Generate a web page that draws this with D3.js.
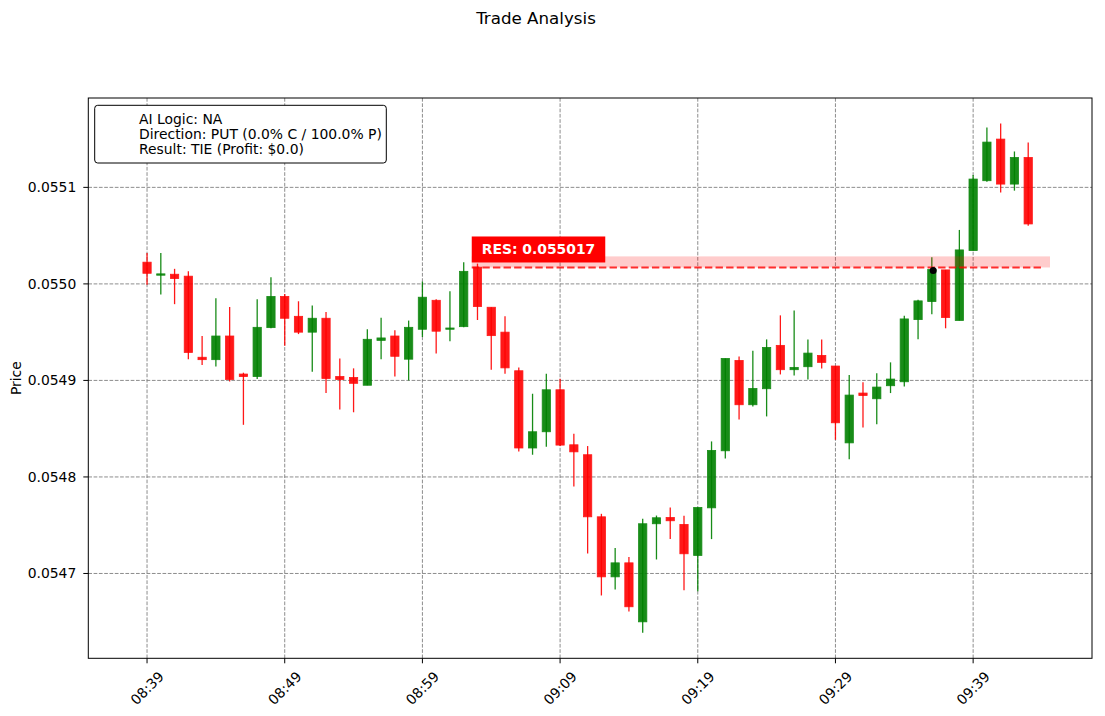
<!DOCTYPE html>
<html><head><meta charset="utf-8">
<script src="https://cdn.jsdelivr.net/npm/d3@7"></script>
<style>body{margin:0;background:#fff;} svg{display:block;font-family:"DejaVu Sans",sans-serif;}</style>
</head><body>
<svg id="chart" width="1105" height="716"></svg>
<script>
const times = ["08:39","08:40","08:41","08:42","08:43","08:44","08:45","08:46","08:47","08:48",
"08:49","08:50","08:51","08:52","08:53","08:54","08:55","08:56","08:57","08:58",
"08:59","09:00","09:01","09:02","09:03","09:04","09:05","09:06","09:07","09:08",
"09:09","09:10","09:11","09:12","09:13","09:14","09:15","09:16","09:17","09:18",
"09:19","09:20","09:21","09:22","09:23","09:24","09:25","09:26","09:27","09:28",
"09:29","09:30","09:31","09:32","09:33","09:34","09:35","09:36","09:37","09:38",
"09:39","09:40","09:41","09:42","09:43"];
const opens = [0.0550225,0.0550090,0.0550100,0.0550080,0.0549240,0.0549215,0.0549460,0.0549066,0.0549040,0.0549547,
0.0549870,0.0549664,0.0549500,0.0549644,0.0549040,0.0549030,0.0548950,0.0549415,0.0549460,0.0549220,
0.0549530,0.0549830,0.0549530,0.0549557,0.0550173,0.0549758,0.0549500,0.0549100,0.0548300,0.0548468,
0.0548903,0.0548333,0.0548230,0.0547587,0.0546965,0.0547110,0.0546499,0.0547515,0.0547580,0.0547508,
0.0547187,0.0547680,0.0548271,0.0549207,0.0548748,0.0548914,0.0549363,0.0549111,0.0549142,0.0549259,
0.0549149,0.0548353,0.0548869,0.0548810,0.0548945,0.0548986,0.0549630,0.0549817,0.0550145,0.0549621,
0.0550345,0.0551069,0.0551500,0.0551034,0.0551310];
const highs = [0.0550320,0.0550320,0.0550156,0.0550130,0.0549460,0.0549850,0.0549760,0.0549080,0.0549840,0.0550070,
0.0549896,0.0549820,0.0549775,0.0549710,0.0549228,0.0549125,0.0549530,0.0549650,0.0549520,0.0549620,
0.0550024,0.0549840,0.0549924,0.0550225,0.0550210,0.0549758,0.0549664,0.0549135,0.0548862,0.0549069,
0.0549017,0.0548447,0.0548320,0.0547618,0.0547263,0.0547170,0.0547566,0.0547600,0.0547684,0.0547598,
0.0547684,0.0548368,0.0549228,0.0549249,0.0549307,0.0549425,0.0549674,0.0549725,0.0549425,0.0549425,
0.0549149,0.0549055,0.0548980,0.0549073,0.0549187,0.0549671,0.0549837,0.0550277,0.0550145,0.0550559,
0.0551128,0.0551621,0.0551662,0.0551372,0.0551466];
const lows = [0.0549990,0.0549890,0.0549790,0.0549220,0.0549160,0.0549145,0.0548990,0.0548540,0.0549014,0.0549540,
0.0549360,0.0549480,0.0549090,0.0548870,0.0548700,0.0548670,0.0548950,0.0549220,0.0549040,0.0549000,
0.0549450,0.0549280,0.0549405,0.0549550,0.0549626,0.0549110,0.0549070,0.0548264,0.0548230,0.0548313,
0.0548320,0.0547900,0.0547207,0.0546772,0.0546834,0.0546606,0.0546385,0.0547145,0.0547356,0.0546827,
0.0546817,0.0547356,0.0548192,0.0548596,0.0548730,0.0548627,0.0549062,0.0549052,0.0549010,0.0549124,
0.0548385,0.0548183,0.0548512,0.0548547,0.0548869,0.0548938,0.0549426,0.0549685,0.0549540,0.0549621,
0.0550345,0.0551059,0.0550948,0.0550966,0.0550603];
const closes = [0.0550110,0.0550104,0.0550055,0.0549290,0.0549215,0.0549460,0.0549010,0.0549040,0.0549550,0.0549870,
0.0549644,0.0549500,0.0549644,0.0549020,0.0549010,0.0548970,0.0549426,0.0549440,0.0549250,0.0549550,
0.0549862,0.0549510,0.0549543,0.0550130,0.0549765,0.0549464,0.0549130,0.0548300,0.0548468,0.0548903,
0.0548330,0.0548260,0.0547587,0.0546965,0.0547110,0.0546655,0.0547515,0.0547577,0.0547546,0.0547204,
0.0547684,0.0548275,0.0549228,0.0548748,0.0548917,0.0549342,0.0549111,0.0549135,0.0549283,0.0549187,
0.0548561,0.0548848,0.0548844,0.0548931,0.0549014,0.0549637,0.0549824,0.0550149,0.0549651,0.0550352,
0.0551086,0.0551469,0.0551034,0.0551310,0.0550621];
const yTicks = [0.0547,0.0548,0.0549,0.0550,0.0551];
const xTickLabels = ["08:39","08:49","08:59","09:09","09:19","09:29","09:39"];
const legendLines = ["AI Logic: NA","Direction: PUT (0.0% C / 100.0% P)","Result: TIE (Profit: $0.0)"];
const titleText = "Trade Analysis";
const yLabel = "Price";
const resLevel = 0.055017;
const resLabel = "RES: 0.055017";
const resStart = "09:02:35", resEnd = "09:43:58", bandEnd = "09:44:35";
const bandTop = 0.0550285;
const entryTime = "09:36:06", entryPrice = 0.055014;
const xDomainStr = ["08:34:44","09:47:38"];

const p1 = d3.timeParse("%H:%M"), p2 = d3.timeParse("%H:%M:%S");
const parse = s => s.length > 5 ? p2(s) : p1(s);

const svg = d3.select("#chart");
const L = 88.3, R = 1092, T = 98, B = 658.3;

const candles = times.map((t,i)=>({t:parse(t),o:opens[i],h:highs[i],l:lows[i],c:closes[i]}));
const x = d3.scaleTime().domain(xDomainStr.map(parse)).range([L,R]);
const lo = d3.min(lows), hi = d3.max(highs), pad = (hi-lo)*0.05;
const y = d3.scaleLinear().domain([lo-pad, hi+pad]).range([B,T]);

// title
svg.append("text").attr("x",536).attr("y",24).attr("text-anchor","middle")
  .attr("font-size","16.7px").attr("fill","#000").text(titleText);

// grid
const g = svg.append("g");
g.selectAll(".hg").data(yTicks).enter().append("line")
  .attr("x1",L).attr("x2",R).attr("y1",d=>y(d)).attr("y2",d=>y(d))
  .attr("stroke","#808080").attr("stroke-width",0.9).attr("stroke-dasharray","3.7,1.6");
g.selectAll(".vg").data(xTickLabels).enter().append("line")
  .attr("y1",T).attr("y2",B).attr("x1",d=>x(parse(d))).attr("x2",d=>x(parse(d)))
  .attr("stroke","#808080").attr("stroke-width",0.9).attr("stroke-dasharray","3.7,1.6");

// candles
const minute = 60000;
const cw = x(new Date(parse("08:39").getTime()+0.6*minute)) - x(parse("08:39"));
const cg = svg.append("g");
candles.forEach(d=>{
  const col = d.c >= d.o ? "green" : "red";
  const cx = x(d.t);
  cg.append("line").attr("x1",cx).attr("x2",cx).attr("y1",y(d.h)).attr("y2",y(d.l))
    .attr("stroke",col).attr("stroke-width",1.3).attr("opacity",0.9);
  const top = y(Math.max(d.o,d.c)), bot = y(Math.min(d.o,d.c));
  cg.append("rect").attr("x",cx-cw/2).attr("width",cw).attr("y",top).attr("height",Math.max(bot-top,0.8))
    .attr("fill",col).attr("stroke",col).attr("stroke-width",0.8).attr("opacity",0.9);
});

// resistance band + line
svg.append("rect").attr("x",x(parse(resStart))).attr("width",x(parse(bandEnd))-x(parse(resStart)))
  .attr("y",y(bandTop)).attr("height",y(resLevel)-y(bandTop)).attr("fill","red").attr("opacity",0.2);
svg.append("line").attr("x1",x(parse(resStart))).attr("x2",x(parse(resEnd)))
  .attr("y1",y(resLevel)).attr("y2",y(resLevel)).attr("stroke","red").attr("stroke-width",2)
  .attr("stroke-dasharray","7.4,3.2").attr("opacity",0.8);

// label
const lx = x(parse(resStart)), lyBottom = y(resLevel)-5;
const lt = svg.append("text").attr("x",lx+10).attr("y",lyBottom-8).attr("font-size","13.9px")
  .attr("font-weight","bold").attr("fill","white").text(resLabel);
const tl = lt.node().getComputedTextLength();
svg.insert("rect","text:last-of-type").attr("x",lx).attr("y",lyBottom-26).attr("width",tl+20).attr("height",26).attr("fill","red");
lt.raise();

// entry marker
svg.append("circle").attr("cx",x(parse(entryTime))).attr("cy",y(entryPrice)).attr("r",3.5).attr("fill","black");

// frame
svg.append("rect").attr("x",L).attr("y",T).attr("width",R-L).attr("height",B-T)
  .attr("fill","none").attr("stroke","black").attr("stroke-width",1);

// y axis ticks
yTicks.forEach(v=>{
  svg.append("line").attr("x1",L-5).attr("x2",L).attr("y1",y(v)).attr("y2",y(v)).attr("stroke","black");
  svg.append("text").attr("x",L-12).attr("y",y(v)).attr("dy","0.36em").attr("text-anchor","end")
    .attr("font-size","13.9px").text(d3.format(".4f")(v));
});
// x axis ticks
xTickLabels.forEach(s=>{
  const xx = x(parse(s));
  svg.append("line").attr("x1",xx).attr("x2",xx).attr("y1",B).attr("y2",B+5).attr("stroke","black");
  svg.append("text").attr("transform",`translate(${xx},688) rotate(-45)`).attr("dy","0.36em")
    .attr("text-anchor","middle").attr("font-size","13.9px").text(s);
});
// y label
svg.append("text").attr("transform",`translate(21,${(T+B)/2}) rotate(-90)`).attr("text-anchor","middle")
  .attr("font-size","13.9px").text(yLabel);

// legend
svg.append("rect").attr("x",94.7).attr("y",105.3).attr("width",291.6).attr("height",57.7).attr("rx",3)
  .attr("fill","white").attr("stroke","black").attr("stroke-width",1);
legendLines.forEach((s,i)=>{
  svg.append("text").attr("x",139).attr("y",123.7+15*i).attr("font-size","13.9px").text(s);
});
</script>
</body></html>
